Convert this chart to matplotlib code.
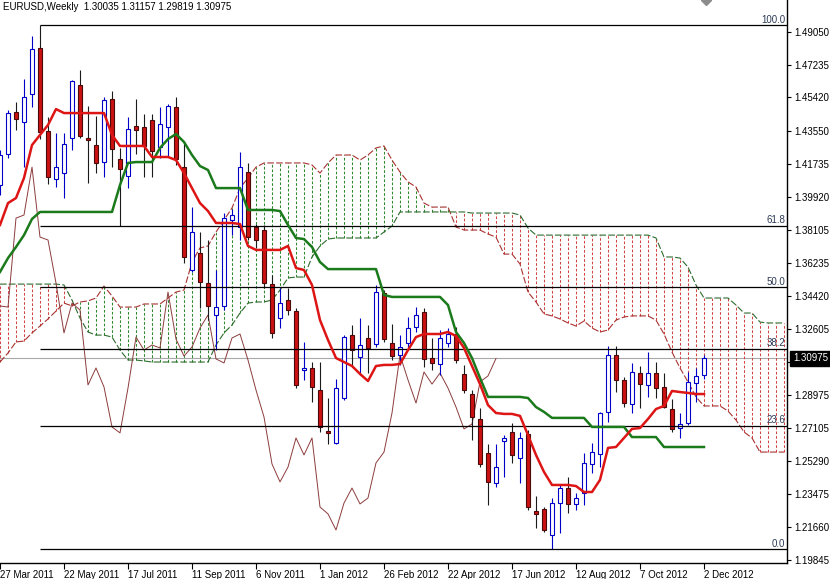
import numpy as np
import matplotlib.pyplot as plt
from matplotlib.transforms import blended_transform_factory

plt.rcParams['font.family'] = ['Liberation Sans', 'DejaVu Sans']
plt.rcParams['font.size'] = 7

# weekly EURUSD candles, bar 0 = week of 27 Mar 2011
opens = [1.4057, 1.4228, 1.4461, 1.4405, 1.4560, 1.4815, 1.4356, 1.4090, 1.4123, 1.4317,
         1.4610, 1.4317, 1.4278, 1.4184, 1.4533, 1.4201, 1.4107, 1.4383, 1.4378, 1.4416,
         1.4267, 1.4378, 1.4488, 1.4156, 1.3587, 1.3681, 1.3515, 1.3338, 1.3388, 1.3863,
         1.3825, 1.4129, 1.3825, 1.3808, 1.3509, 1.3321, 1.3421, 1.3360, 1.3034, 1.3045,
         1.2923, 1.2697, 1.2630, 1.2879, 1.3227, 1.3106, 1.3211, 1.3178, 1.3460, 1.3183,
         1.3117, 1.3183, 1.3272, 1.3355, 1.3100, 1.3067, 1.3183, 1.3233, 1.3012, 1.2901,
         1.2763, 1.2575, 1.2409, 1.2641, 1.2691, 1.2547, 1.2680, 1.2254, 1.2265, 1.2121,
         1.2298, 1.2381, 1.2293, 1.2354, 1.2514, 1.2569, 1.2802, 1.3117, 1.2979, 1.2846,
         1.3017, 1.2951, 1.3017, 1.2940, 1.2818, 1.2713, 1.2741, 1.2962, 1.30035]
highs = [1.4250, 1.4472, 1.4516, 1.4643, 1.4881, 1.4940, 1.4433, 1.4345, 1.4345, 1.4638,
         1.4693, 1.4494, 1.4439, 1.4544, 1.4577, 1.4262, 1.4433, 1.4533, 1.4450, 1.4450,
         1.4488, 1.4505, 1.4544, 1.4289, 1.3935, 1.3797, 1.3753, 1.3587, 1.3902, 1.3924,
         1.4239, 1.4179, 1.3841, 1.3836, 1.3559, 1.3487, 1.3487, 1.3377, 1.3189, 1.3078,
         1.3078, 1.2879, 1.2984, 1.3227, 1.3283, 1.3321, 1.3283, 1.3504, 1.3476, 1.3288,
         1.3227, 1.3327, 1.3382, 1.3377, 1.3211, 1.3255, 1.3266, 1.3272, 1.3062, 1.2923,
         1.2824, 1.2625, 1.2625, 1.2674, 1.2741, 1.2691, 1.2702, 1.2337, 1.2276, 1.2326,
         1.2398, 1.2442, 1.2354, 1.2575, 1.2630, 1.2802, 1.3167, 1.3167, 1.2995, 1.3073,
         1.3056, 1.3133, 1.3078, 1.3017, 1.2874, 1.2796, 1.3023, 1.3045, 1.31157]
lows = [1.4002, 1.4206, 1.4361, 1.4156, 1.4488, 1.4311, 1.4062, 1.4046, 1.3985, 1.4250,
        1.4317, 1.4068, 1.4123, 1.4101, 1.4156, 1.3830, 1.4040, 1.4228, 1.4101, 1.4101,
        1.4206, 1.4212, 1.4168, 1.3626, 1.3576, 1.3377, 1.3310, 1.3144, 1.3366, 1.3780,
        1.3753, 1.3753, 1.3709, 1.3487, 1.3211, 1.3266, 1.3338, 1.2934, 1.2979, 1.2857,
        1.2691, 1.2625, 1.2625, 1.2868, 1.3050, 1.3006, 1.3017, 1.3161, 1.3189, 1.3089,
        1.3062, 1.3144, 1.3244, 1.3050, 1.3034, 1.3006, 1.3161, 1.3073, 1.2907, 1.2647,
        1.2497, 1.2287, 1.2387, 1.2442, 1.2520, 1.2409, 1.2260, 1.2160, 1.2138, 1.2042,
        1.2133, 1.2243, 1.2260, 1.2287, 1.2464, 1.2497, 1.2746, 1.2912, 1.2829, 1.2796,
        1.2824, 1.2885, 1.2879, 1.2824, 1.2691, 1.2658, 1.2730, 1.2857, 1.29819]
closes = [1.4223, 1.4455, 1.4422, 1.4544, 1.4809, 1.4350, 1.4101, 1.4156, 1.4284, 1.4632,
          1.4328, 1.4306, 1.4179, 1.4527, 1.4256, 1.4145, 1.4367, 1.4361, 1.4273, 1.4245,
          1.4394, 1.4494, 1.4201, 1.3659, 1.3797, 1.3521, 1.3388, 1.3382, 1.3874, 1.3891,
          1.4156, 1.3769, 1.3753, 1.3515, 1.3239, 1.3404, 1.3366, 1.2951, 1.3045, 1.2940,
          1.2719, 1.2686, 1.2934, 1.3216, 1.3144, 1.3172, 1.3156, 1.3465, 1.3205, 1.3111,
          1.3161, 1.3266, 1.3338, 1.3095, 1.3073, 1.3211, 1.3233, 1.3089, 1.2923, 1.2774,
          1.2514, 1.2415, 1.2497, 1.2658, 1.2564, 1.2658, 1.2276, 1.2238, 1.2149, 1.2298,
          1.2381, 1.2293, 1.2326, 1.2520, 1.2580, 1.2796, 1.3117, 1.2979, 1.2851, 1.3023,
          1.2956, 1.3017, 1.2934, 1.2829, 1.2708, 1.2735, 1.2968, 1.3001, 1.30975]

# ichimoku lines as drawn on the chart
tenkan = [1.3836, 1.3957, 1.3985, 1.4096, 1.4278, 1.4334, 1.4389, 1.4477, 1.4455, 1.4455,
          1.4455, 1.4455, 1.4455, 1.4455, 1.4334, 1.4273, 1.4273, 1.4273, 1.4273, 1.4212,
          1.4212, 1.4212, 1.4195, 1.4123, 1.4040, 1.3957, 1.3913, 1.3847, 1.3847, 1.3847,
          1.3841, 1.3720, 1.3698, 1.3698, 1.3698, 1.3698, 1.3720, 1.3598, 1.3587, 1.3504,
          1.3310, 1.3200, 1.3100, 1.3078, 1.3056, 1.3012, 1.2973, 1.3056, 1.3062, 1.3062,
          1.3067, 1.3144, 1.3216, 1.3233, 1.3233, 1.3233, 1.3244, 1.3222, 1.3156, 1.3056,
          1.2956, 1.2840, 1.2796, 1.2791, 1.2791, 1.2780, 1.2674, 1.2564, 1.2470, 1.2398,
          1.2398, 1.2398, 1.2392, 1.2359, 1.2359, 1.2426, 1.2603, 1.2608, 1.2658, 1.2708,
          1.2713, 1.2763, 1.2818, 1.2835, 1.2918, 1.2912, 1.2907, 1.2901, 1.2901]
kijun = [1.3576, 1.3653, 1.3714, 1.3780, 1.3869, 1.3908, 1.3908, 1.3908, 1.3908, 1.3908,
         1.3908, 1.3908, 1.3908, 1.3908, 1.3908, 1.4057, 1.4179, 1.4184, 1.4184, 1.4184,
         1.4262, 1.4311, 1.4339, 1.4295, 1.4223, 1.4162, 1.4140, 1.4040, 1.4040, 1.4040,
         1.4040, 1.3919, 1.3919, 1.3919, 1.3919, 1.3913, 1.3836, 1.3764, 1.3758, 1.3714,
         1.3631, 1.3592, 1.3592, 1.3592, 1.3592, 1.3592, 1.3592, 1.3592, 1.3449, 1.3438,
         1.3438, 1.3438, 1.3438, 1.3438, 1.3438, 1.3438, 1.3393, 1.3244, 1.3183, 1.3100,
         1.2990, 1.2885, 1.2885, 1.2885, 1.2885, 1.2885, 1.2879, 1.2829, 1.2802, 1.2769,
         1.2769, 1.2769, 1.2769, 1.2769, 1.2719, 1.2719, 1.2719, 1.2719, 1.2719, 1.2663,
         1.2663, 1.2663, 1.2663, 1.2608, 1.2608, 1.2608, 1.2608, 1.2608, 1.2608]
span_a = [1.3078, 1.3128, 1.3189, 1.3194, 1.3239, 1.3277, 1.3316, 1.3360, 1.3404, 1.3388,
          1.3410, 1.3416, 1.3432, 1.3498, 1.3443, 1.3382, 1.3382, 1.3382, 1.3399, 1.3399,
          1.3399, 1.3432, 1.3465, 1.3476, 1.3631, 1.3709, 1.3720, 1.3797, 1.3863, 1.3930,
          1.4040, 1.4096, 1.4156, 1.4179, 1.4179, 1.4179, 1.4179, 1.4179, 1.4179, 1.4168,
          1.4123, 1.4179, 1.4223, 1.4223, 1.4223, 1.4195, 1.4223, 1.4262, 1.4273, 1.4195,
          1.4129, 1.4074, 1.4046, 1.3957, 1.3935, 1.3935, 1.3935, 1.3825, 1.3808, 1.3808,
          1.3808, 1.3786, 1.3769, 1.3675, 1.3675, 1.3620, 1.3465, 1.3410, 1.3344, 1.3333,
          1.3316, 1.3294, 1.3277, 1.3305, 1.3266, 1.3244, 1.3255, 1.3310, 1.3327, 1.3333,
          1.3333, 1.3333, 1.3310, 1.3233, 1.3133, 1.3045, 1.2968, 1.2885, 1.2835, 1.2835,
          1.2835, 1.2807, 1.2757, 1.2691, 1.2658, 1.2580, 1.2580, 1.2580, 1.2580]
span_b = [1.3509, 1.3509, 1.3509, 1.3509, 1.3509, 1.3509, 1.3509, 1.3509, 1.3504, 1.3421,
          1.3321, 1.3244, 1.3227, 1.3227, 1.3216, 1.3144, 1.3089, 1.3089, 1.3084, 1.3078,
          1.3078, 1.3078, 1.3078, 1.3078, 1.3078, 1.3078, 1.3078, 1.3172, 1.3239, 1.3283,
          1.3349, 1.3404, 1.3410, 1.3410, 1.3421, 1.3476, 1.3543, 1.3548, 1.3548, 1.3659,
          1.3720, 1.3758, 1.3764, 1.3764, 1.3764, 1.3764, 1.3764, 1.3764, 1.3797, 1.3830,
          1.3908, 1.3908, 1.3908, 1.3908, 1.3908, 1.3908, 1.3908, 1.3908, 1.3908, 1.3902,
          1.3902, 1.3902, 1.3902, 1.3902, 1.3902, 1.3891, 1.3819, 1.3780, 1.3780, 1.3780,
          1.3780, 1.3780, 1.3780, 1.3780, 1.3780, 1.3780, 1.3780, 1.3780, 1.3780, 1.3780,
          1.3780, 1.3780, 1.3764, 1.3659, 1.3659, 1.3653, 1.3603, 1.3504, 1.3432, 1.3432,
          1.3432, 1.3432, 1.3393, 1.3349, 1.3349, 1.3299, 1.3294, 1.3294, 1.3294]
chikou_shift = 26

# fibonacci retracement drawn from the May 2011 high to the July 2012 low
fib_high = 1.4940
fib_low = 1.2042
fib_start = 5
fib_levels = [0.0, 23.6, 38.2, 50.0, 61.8, 100.0]

date_labels = ['27 Mar 2011', '22 May 2011', '17 Jul 2011', '11 Sep 2011', '6 Nov 2011',
               '1 Jan 2012', '26 Feb 2012', '22 Apr 2012', '17 Jun 2012', '12 Aug 2012',
               '7 Oct 2012', '2 Dec 2012']
price_ticks = [1.49050, 1.47235, 1.45420, 1.43550, 1.41735, 1.39920, 1.38105, 1.36235,
               1.34420, 1.32605, 1.30790, 1.28975, 1.27105, 1.25290, 1.23475, 1.21660, 1.19845]
last_price = 1.30975
header = 'EURUSD,Weekly  1.30035 1.31157 1.29819 1.30975'

o = np.array(opens)
h = np.array(highs)
l = np.array(lows)
c = np.array(closes)
bars = np.arange(len(c))
a = np.array(span_a)
b = np.array(span_b)
cloud_bars = np.arange(len(a))

fig = plt.figure(figsize=(8.3, 5.79), dpi=100)
ax = fig.add_axes([0, 16 / 579, 787 / 830, 563 / 579])
ax.set_xlim(0, 98.375)
ax.set_ylim(1.19664, 1.50803)

# bid line
ax.axhline(last_price, color='#a8a8a8', lw=0.8, zorder=1)

# kumo hatching
bull_cloud = a >= b
dash = (0, (2.6, 1.8))
ax.vlines(cloud_bars[bull_cloud], b[bull_cloud], a[bull_cloud],
          colors='#2f8a2f', linestyles=dash, lw=0.75, zorder=1.2)
ax.vlines(cloud_bars[~bull_cloud], a[~bull_cloud], b[~bull_cloud],
          colors='#d24444', linestyles=dash, lw=0.75, zorder=1.2)
ax.plot(cloud_bars, a, color='#a83232', lw=0.8, ls=(0, (6, 2)), zorder=1.4)
ax.plot(cloud_bars, b, color='#2e6b2e', lw=0.8, ls=(0, (6, 2)), zorder=1.4)

# chikou span
ax.plot(bars[:-chikou_shift], c[chikou_shift:], color='#8c3c3c', lw=0.7, zorder=2)

# candles
up = c >= o
ax.vlines(bars[up], l[up], h[up], color='#0000c8', lw=0.8, zorder=3)
ax.vlines(bars[~up], l[~up], h[~up], color='#1a1a1a', lw=0.8, zorder=3)
ax.bar(bars[up], (c - o)[up], bottom=o[up], width=0.62, color='white',
       edgecolor='#0000c8', lw=0.8, zorder=3.1)
ax.bar(bars[~up], (o - c)[~up], bottom=c[~up], width=0.62, color='#cc1111',
       edgecolor='#4a0a0a', lw=0.8, zorder=3.1)

# fibo
trans = blended_transform_factory(ax.transAxes, ax.transData)
fib_prices = [fib_low + (fib_high - fib_low) * lv / 100 for lv in fib_levels]
ax.hlines(fib_prices, fib_start, 98.375, colors='black', lw=0.9, zorder=3.5)
for lv, pr in zip(fib_levels, fib_prices):
    ax.text(0.9975, pr + 0.0004, f'{lv:.1f}', transform=trans, ha='right', va='bottom',
            color='#2b3a55', fontsize=7, zorder=3.6)

# tenkan / kijun
ax.plot(bars, kijun, color='#1b7a1b', lw=1.8, zorder=4)
ax.plot(bars, tenkan, color='#dd1515', lw=1.8, zorder=4.1)

# axes look
ax.yaxis.tick_right()
ax.set_yticks(price_ticks)
ax.set_yticklabels([f'{p:.5f}' for p in price_ticks])
ax.tick_params(axis='y', direction='out', length=3, width=0.8, pad=2, labelsize=7)
ax.set_xticks(bars[::8])
ax.set_xticklabels(date_labels, ha='left')
ax.tick_params(axis='x', direction='out', length=4, width=0.8, pad=1, labelsize=7)
for s in ['top', 'left']:
    ax.spines[s].set_visible(False)
for s in ['right', 'bottom']:
    ax.spines[s].set_linewidth(1.0)

ax.text(1 + 6 / 787, last_price, f'{last_price:.5f}', transform=trans, ha='left', va='center',
        color='white', fontsize=7, zorder=6, clip_on=False,
        bbox=dict(boxstyle='square,pad=0.3', fc='black', ec='black'))

# chart shift marker
ax.plot([88.3], [1.0], marker='D', ms=5, color='#8c8c8c',
        transform=blended_transform_factory(ax.transData, ax.transAxes), zorder=6)

fig.text(3 / 830, 1 - 7 / 579, header, ha='left', va='center', fontsize=7)

fig.savefig('out.png', dpi=100, facecolor='white')
